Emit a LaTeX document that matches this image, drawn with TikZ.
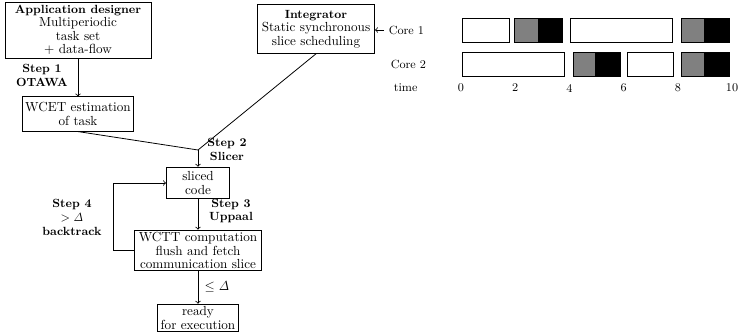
\documentclass[tikz,border=0pt]{standalone}
\usepackage{amsmath}
\tikzset{
  box/.style={draw,line width=0.7pt,align=center,inner sep=1.5pt,font=\fontsize{10}{10.3}\selectfont},
  stepl/.style={align=center,font=\fontsize{9}{10.6}\selectfont\bfseries},
  bar/.style={draw,line width=0.7pt}
}
\begin{document}
\begin{tikzpicture}[x=0.76pt,y=-0.76pt,line width=0.6pt]
\useasboundingbox (0,0) rectangle (740,336);
% flow on the left
\node[box,minimum width=111pt,minimum height=42.6pt] (appdes) at (78,30)
  {{\fontsize{9}{10.3}\selectfont\bfseries Application designer}\\Multiperiodic\\task set\\+ data-flow};
\node[box,minimum width=85pt,minimum height=26pt] (wcet) at (78,114) {WCET estimation\\of task};
\node[box,minimum width=89pt,minimum height=37pt] (integ) at (316,29)
  {{\fontsize{9}{10.3}\selectfont\bfseries Integrator}\\Static synchronous\\slice scheduling};
\node[box,minimum width=48pt,minimum height=24pt] (sliced) at (198,183) {sliced\\code};
\node[box,minimum width=96.5pt,minimum height=31pt] (wctt) at (198,250.5)
  {WCTT computation\\flush and fetch\\communication slice};
\node[box,minimum width=62pt,minimum height=21pt] (ready) at (198,318) {ready\\for execution};
\coordinate (slc) at (198,150);
\draw[->] (appdes) -- (wcet);
\draw (wcet.south) -- (slc);
\draw (integ.south) -- (slc);
\draw[->] (slc) -- (sliced);
\draw[->] (sliced) -- (wctt);
\draw[->] (wctt.west) -- ++(-21,0) |- (sliced.west);
\draw[->] (wctt) -- (ready);
\node[stepl] (s1) at (42,75) {Step 1\\OTAWA};
\node[stepl] (s2) at (227,149) {Step 2\\Slicer};
\node[stepl] (s3) at (231,211) {Step 3\\Uppaal};
\node[stepl] (s4) at (72,217) {Step 4\\$>\mathit{\Delta}$\\backtrack};
\node (le) at (217,287) {$\leq\mathit{\Delta}$};
% slice schedule on the right
\node[font=\small,anchor=west] (core1) at (384,30) {Core 1};
\node[font=\small,anchor=west] (core2) at (386,64) {Core 2};
\node[font=\small,anchor=west] (timel) at (389,88) {time};
\draw[->] (core1.west) -- (integ.east |- core1.west);
\foreach \a/\b/\y in {462/509/18,570/672/18,462/564/52,627/673/52}
  \draw[bar,fill=white] (\a,\y) rectangle (\b,\y+24);
\foreach \a/\m/\b/\y in {514/538/562/18,681/704/729/18,573/595/620/52,681/704/729/52}{
  \draw[bar,fill=gray] (\a,\y) rectangle (\m,\y+24);
  \draw[bar,fill=black] (\m,\y) rectangle (\b,\y+24);
}
\foreach \t in {0,2,...,10}
  \node[font=\small] (t\t) at ({461+27.1*\t},88) {\t};
\end{tikzpicture}
\end{document}
